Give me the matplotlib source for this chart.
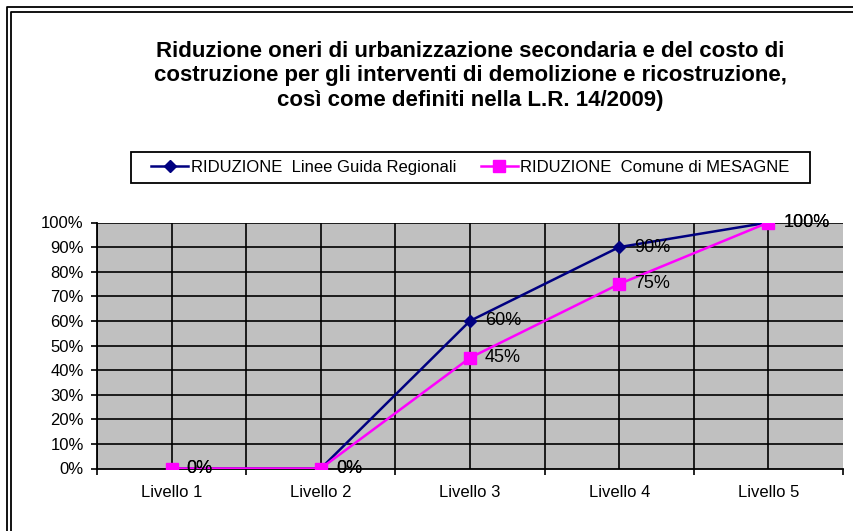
import matplotlib
matplotlib.use("Agg")
import matplotlib.pyplot as plt
from matplotlib.lines import Line2D
from matplotlib.patches import Rectangle
from matplotlib.ticker import FixedLocator, PercentFormatter

plt.rcParams['font.family'] = ['Liberation Sans', 'DejaVu Sans']

categories = ["Livello 1", "Livello 2", "Livello 3", "Livello 4", "Livello 5"]
regionali = [0.0, 0.0, 0.60, 0.90, 1.00]
mesagne = [0.0, 0.0, 0.45, 0.75, 1.00]
series_names = ["RIDUZIONE  Linee Guida Regionali", "RIDUZIONE  Comune di MESAGNE"]
title = ("Riduzione oneri di urbanizzazione secondaria e del costo di\n"
         "costruzione per gli interventi di demolizione e ricostruzione,\n"
         "così come definiti nella L.R. 14/2009)")

W, H = 854, 531
fig = plt.figure(figsize=(W / 100, H / 100), dpi=100)
fig.patch.set_facecolor('white')

# double frame (left and top)
for off in (7, 11.5):
    fig.add_artist(Line2D([off / W, off / W, 1.0], [0.0, 1 - off / H, 1 - off / H],
                          transform=fig.transFigure, color='black', lw=1.3))

left, right, top, bottom = 97, 843, 222.5, 468.5
ax = fig.add_axes([left / W, 1 - bottom / H, (right - left) / W, (bottom - top) / H])
ax.set_facecolor('#C0C0C0')

x = list(range(len(categories)))
ax.set_xlim(-0.5, len(categories) - 0.5)
ax.set_ylim(0, 1)

# grid
for i in range(len(categories) * 2):
    ax.axvline(-0.5 + i * 0.5, color='black', lw=1.2, zorder=1)
for k in range(1, 11):
    ax.axhline(k / 10, color='black', lw=1.2, zorder=1)

ax.plot(x, regionali, color='#000080', lw=1.8, marker='D', markersize=6,
        zorder=3, label=series_names[0])
ax.plot(x, mesagne, color='#FF00FF', lw=1.8, marker='s', markersize=8,
        zorder=4, label=series_names[1])

for xs, ys in ((x, regionali), (x, mesagne)):
    for xi, yi in zip(xs, ys):
        ax.annotate(f"{yi * 100:.0f}%", (xi, yi), xytext=(15, 0),
                    textcoords='offset pixels', va='center', ha='left',
                    fontsize=13, color='black', zorder=5)

for s in ('top', 'right'):
    ax.spines[s].set_visible(False)
ax.spines['left'].set_linewidth(1.3)
ax.spines['bottom'].set_linewidth(1.3)

ax.yaxis.set_major_locator(FixedLocator([k / 10 for k in range(11)]))
ax.yaxis.set_major_formatter(PercentFormatter(1.0, decimals=0))
ax.tick_params(axis='y', direction='out', length=4.5, width=1.2, pad=5, labelsize=12)

ax.xaxis.set_major_locator(FixedLocator([i - 0.5 for i in range(len(categories) + 1)]))
ax.xaxis.set_minor_locator(FixedLocator(x))
ax.set_xticklabels([], minor=False)
ax.set_xticklabels(categories, minor=True)
ax.tick_params(axis='x', which='major', direction='out', length=4.5, width=1.2)
ax.tick_params(axis='x', which='minor', length=0, pad=12, labelsize=12)

fig.text(470 / W, 1 - 76 / H, title, ha='center', va='center', fontsize=16,
         fontweight='bold', linespacing=1.22)

# legend box
lx0, lx1, ly0, ly1 = 131, 810, 152, 183
fig.add_artist(Rectangle((lx0 / W, 1 - ly1 / H), (lx1 - lx0) / W, (ly1 - ly0) / H,
                         transform=fig.transFigure, facecolor='white',
                         edgecolor='black', lw=1.3))
leg = fig.legend(loc='center', bbox_to_anchor=((lx0 + lx1) / 2 / W, 1 - (ly0 + ly1) / 2 / H),
                 ncol=2, frameon=False, fontsize=12,
                 handlelength=2.2, columnspacing=1.5, borderpad=0.3, handletextpad=0.15)

fig.savefig('out.png', dpi=100)
